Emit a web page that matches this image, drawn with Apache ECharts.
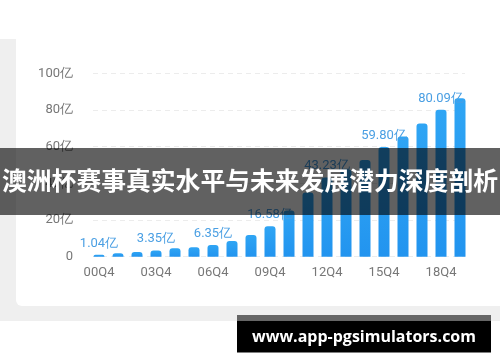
<!DOCTYPE html>
<html>
<head>
<meta charset="utf-8">
<script src="https://cdn.jsdelivr.net/npm/echarts@6/dist/echarts.min.js"></script>
<style>html,body{margin:0;padding:0;background:#fff;}#c{width:500px;height:362px;}</style>
</head>
<body>
<div id="c"></div>
<script>
var categories = ['00Q4','01Q4','02Q4','03Q4','04Q4','05Q4','06Q4','07Q4','08Q4','09Q4','10Q4','11Q4','12Q4','13Q4','14Q4','15Q4','16Q4','17Q4','18Q4','19Q4'];
var values = [1.04, 1.9, 2.6, 3.35, 4.6, 5.1, 6.35, 8.5, 11.8, 16.58, 25.2, 35.0, 43.23, 47.5, 52.7, 59.80, 65.6, 72.6, 80.09, 86.4];
var labeledIndices = [0, 3, 6, 9, 12, 15, 18];
var yTicks = [0, 20, 40, 60, 80, 100];
var titleText = '澳洲杯赛事真实水平与未来发展潜力深度剖析';
var watermarkText = 'www.app-pgsimulators.com';

var chart = echarts.init(document.getElementById('c'), null, {renderer: 'canvas'});
var barData = values.map(function (v, i) {
  return {
    value: v,
    label: {show: labeledIndices.indexOf(i) >= 0}
  };
});
var option = {
  animation: false,
  backgroundColor: 'transparent',
  grid: [
    {left: 93, right: 35, top: 73.3, bottom: 105.3},
    {left: 89.5, right: 30.5, top: 73.3, bottom: 105.3}
  ],
  xAxis: [
    {type: 'value', gridIndex: 0, show: false, min: 0, max: 1},
    {
      type: 'category', gridIndex: 1, data: categories,
      axisLine: {show: false}, axisTick: {show: false},
      axisLabel: {interval: 2, color: '#777', fontSize: 13, margin: 10, fontFamily: 'Roboto'}
    }
  ],
  yAxis: [
    {
      type: 'value', gridIndex: 0, min: yTicks[0], max: yTicks[yTicks.length - 1], interval: 20,
      axisLine: {show: false}, axisTick: {show: false},
      axisLabel: {
        color: '#777', fontSize: 13, margin: 20, fontFamily: 'Roboto',
        formatter: function (v) { return v === 0 ? '0' : v + '亿'; }
      },
      splitLine: {show: true, lineStyle: {color: '#ececec', type: [5, 4], width: 1}}
    },
    {type: 'value', gridIndex: 1, min: 0, max: 100, interval: 20, show: false, splitLine: {show: false}}
  ],
  series: [{
    type: 'bar', xAxisIndex: 1, yAxisIndex: 1,
    data: barData,
    barWidth: 11,
    itemStyle: {
      borderRadius: [3, 3, 0, 0],
      color: new echarts.graphic.LinearGradient(0, 0, 0, 1, [
        {offset: 0, color: '#2fa5f4'},
        {offset: 1, color: '#2294ef'}
      ])
    },
    label: {
      position: 'top', distance: 5, color: '#4a9fe3', fontSize: 13, fontFamily: 'Roboto',
      formatter: function (p) { return p.value.toFixed(2) + '亿'; }
    }
  }],
  graphic: [
    {type: 'rect', z: -10, silent: true, shape: {x: 0, y: 39, width: 500, height: 282}, style: {fill: '#efefef'}},
    {type: 'rect', z: -9, silent: true, shape: {x: 16, y: 39, width: 500, height: 267, r: [0, 0, 0, 6]}, style: {fill: '#ffffff'}},
    {type: 'rect', z: 100, silent: true, shape: {x: 0, y: 148, width: 500, height: 67}, style: {fill: 'rgba(0,0,0,0.62)'}},
    {type: 'text', z: 101, silent: true, x: 250, y: 181, style: {
      text: titleText, fill: '#fff', font: 'bold 24.8px "Noto Sans CJK SC"', align: 'center', verticalAlign: 'middle'
    }},
    {type: 'rect', z: 100, silent: true, shape: {x: 237, y: 315, width: 254, height: 6}, style: {fill: '#666'}},
    {type: 'rect', z: 100, silent: true, shape: {x: 237, y: 321, width: 254, height: 31.5}, style: {fill: '#000'}},
    {type: 'text', z: 101, silent: true, x: 364, y: 337, style: {
      text: watermarkText, fill: '#fff', font: 'bold 16px "Open Sans"', align: 'center', verticalAlign: 'middle'
    }}
  ]
};
chart.setOption(option);
</script>
</body>
</html>
